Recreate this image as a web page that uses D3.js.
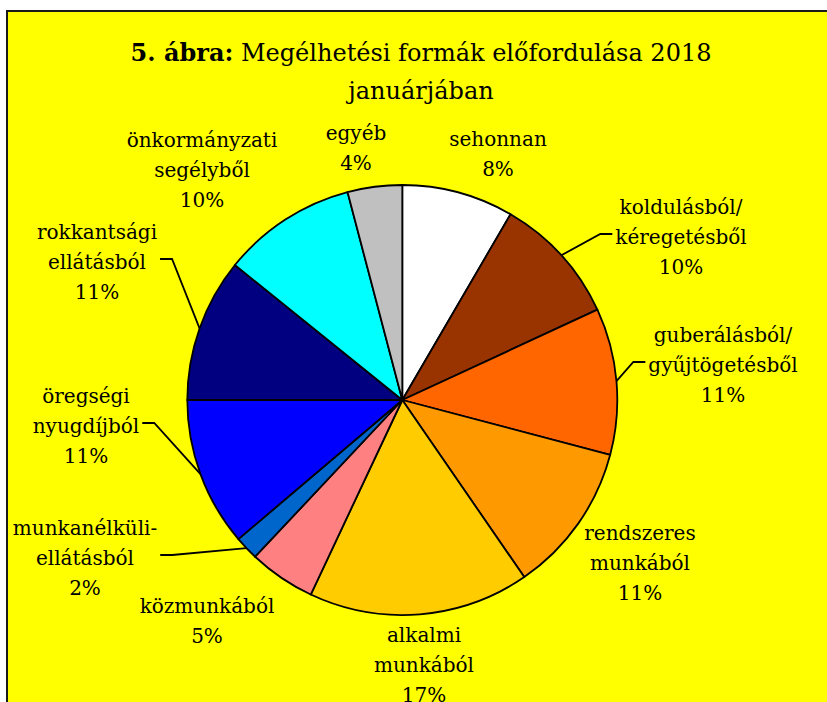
<!DOCTYPE html>
<html>
<head>
<meta charset="utf-8">
<script src="https://cdn.jsdelivr.net/npm/d3@7"></script>
<style>
  html, body { margin: 0; padding: 0; background: #fff; }
  svg { display: block; }
  text { font-family: "DejaVu Serif", serif; fill: #000; }
</style>
</head>
<body>
<svg id="chart" width="827" height="702"></svg>
<script>
// slices, clockwise from 12 o'clock
const categories = [
  ["sehonnan"],
  ["koldulásból/", "kéregetésből"],
  ["guberálásból/", "gyűjtögetésből"],
  ["rendszeres", "munkából"],
  ["alkalmi", "munkából"],
  ["közmunkából"],
  ["munkanélküli-", "ellátásból"],
  ["öregségi", "nyugdíjból"],
  ["rokkantsági", "ellátásból"],
  ["önkormányzati", "segélyből"],
  ["egyéb"]
];
const values = [8.4, 9.7, 11.0, 11.3, 16.6, 5.0, 1.8, 11.2, 10.8, 10.1, 4.1];
const colors = ["#FFFFFF", "#993300", "#FF6600", "#FF9900", "#FFCC00", "#FF8080",
                "#0066CC", "#0000FF", "#000080", "#00FFFF", "#C0C0C0"];

// label placement (center x, center y of first line) and leader side
const labelPos = [
  [498, 139], [681, 207], [723, 335], [640, 533], [424, 635], [207, 606],
  [85, 528], [86, 396], [97, 232], [202, 140], [356, 133]
];
const leaderSide = [null, "left", "left", null, null, null, "right", "right", "right", null, null];

const svg = d3.select("#chart");
const W = 827, H = 702;
const cx = 402.3, cy = 400, r = 215;
const lineH = 30;

// chart area background and border
svg.append("rect")
  .attr("x", 7).attr("y", 11)
  .attr("width", W + 20).attr("height", H + 20)
  .attr("fill", "#FFFF00")
  .attr("stroke", "#1a1a1a").attr("stroke-width", 2);

// title
const title = svg.append("text")
  .attr("x", 421).attr("y", 53)
  .attr("text-anchor", "middle")
  .attr("dy", "0.35em")
  .style("font-size", "24px");
title.append("tspan").style("font-weight", "bold").text("5. ábra:");
title.append("tspan").text(" Megélhetési formák előfordulása 2018");
svg.append("text")
  .attr("x", 421).attr("y", 91)
  .attr("text-anchor", "middle")
  .attr("dy", "0.35em")
  .style("font-size", "24px")
  .text("januárjában");

const total = d3.sum(values);
const pie = d3.pie().sort(null).value(d => d);
const arcs = pie(values);
const arc = d3.arc().innerRadius(0).outerRadius(r);

const g = svg.append("g").attr("transform", `translate(${cx},${cy})`);
g.selectAll("path")
  .data(arcs)
  .join("path")
  .attr("d", arc)
  .attr("fill", (d, i) => colors[i])
  .attr("stroke", "#000")
  .attr("stroke-width", 1.8)
  .attr("stroke-linejoin", "round");

// labels
const labels = svg.append("g");
arcs.forEach((d, i) => {
  const lines = categories[i].concat([Math.round(d.value / total * 100) + "%"]);
  const t = labels.append("text")
    .attr("text-anchor", "middle")
    .style("font-size", "20px");
  lines.forEach((ln, j) => {
    t.append("tspan")
      .attr("x", labelPos[i][0])
      .attr("y", labelPos[i][1] + j * lineH)
      .attr("dy", "0.35em")
      .text(ln);
  });

  if (leaderSide[i]) {
    const bb = t.node().getBBox();
    const mid = (d.startAngle + d.endAngle) / 2;
    const ex = cx + r * Math.sin(mid), ey = cy - r * Math.cos(mid);
    const ly = labelPos[i][1] + lineH - 3;
    let x1, x2;
    if (leaderSide[i] === "left") { x1 = bb.x - 3; x2 = x1 - 12; }
    else { x1 = bb.x + bb.width + 3; x2 = x1 + 12; }
    svg.append("polyline")
      .attr("points", [[x1, ly], [x2, ly], [ex, ey]].map(p => p.join(",")).join(" "))
      .attr("fill", "none")
      .attr("stroke", "#000")
      .attr("stroke-width", 1.8);
  }
});
</script>
</body>
</html>
